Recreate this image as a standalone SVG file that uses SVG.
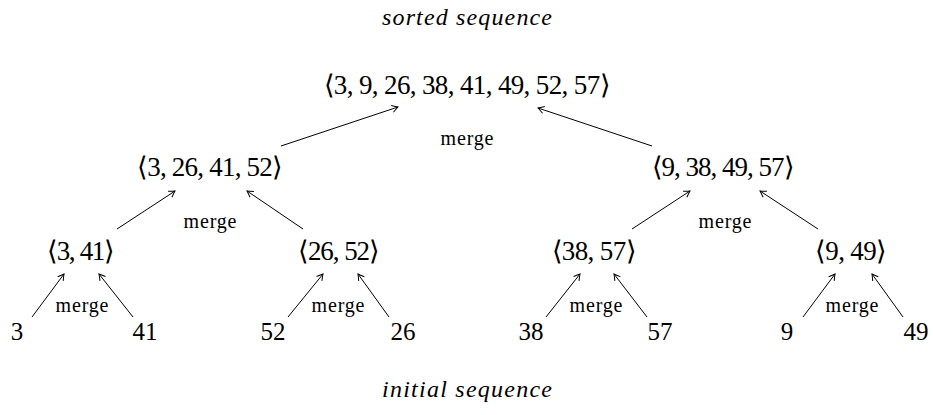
<svg xmlns="http://www.w3.org/2000/svg" width="933" height="415" viewBox="0 0 933 415">
<style>
text{fill:#000;text-anchor:middle;font-family:'Liberation Serif','Times New Roman',serif}
.cap{font-style:italic;font-size:24px}
.seq{font-size:27px}
.num{font-size:25px}
.mg{font-size:20px}
.e{stroke:#000;stroke-width:1;fill:none;marker-end:url(#ah)}
</style>
<defs>
<marker id="ah" viewBox="-8 -5 10 10" refX="0" refY="0" markerWidth="10" markerHeight="10" markerUnits="userSpaceOnUse" orient="auto">
<path d="M-6,-3.5 Q-2,-1 0,0 Q-2,1 -6,3.5" fill="none" stroke="#000" stroke-width="1"/>
</marker>
</defs>
<text class="cap" x="467" y="25" textLength="170">sorted sequence</text>
<text class="cap" x="467" y="397" textLength="170">initial sequence</text>
<g id="root"><text class="seq" x="467" y="94" textLength="287">⟨3, 9, 26, 38, 41, 49, 52, 57⟩</text></g>
<g id="l2a"><text class="seq" x="210" y="176" textLength="146">⟨3, 26, 41, 52⟩</text></g>
<g id="l2b"><text class="seq" x="723" y="176" textLength="143">⟨9, 38, 49, 57⟩</text></g>
<g id="l3a"><text class="seq" x="81" y="260" textLength="68">⟨3, 41⟩</text></g>
<g id="l3b"><text class="seq" x="339" y="260" textLength="82">⟨26, 52⟩</text></g>
<g id="l3c"><text class="seq" x="594" y="260" textLength="85">⟨38, 57⟩</text></g>
<g id="l3d"><text class="seq" x="851" y="260" textLength="72">⟨9, 49⟩</text></g>
<g id="n3"><text class="num" x="17" y="340">3</text></g>
<g id="n41"><text class="num" x="145" y="340">41</text></g>
<g id="n52"><text class="num" x="273" y="340">52</text></g>
<g id="n26"><text class="num" x="403" y="340">26</text></g>
<g id="n38"><text class="num" x="531" y="340">38</text></g>
<g id="n57"><text class="num" x="660" y="340">57</text></g>
<g id="n9"><text class="num" x="787" y="340">9</text></g>
<g id="n49"><text class="num" x="916" y="340">49</text></g>
<g id="connectors">
<line class="e" x1="32" y1="317" x2="64" y2="274"/>
<line class="e" x1="133" y1="317" x2="99" y2="274"/>
<line class="e" x1="288" y1="317" x2="323" y2="274"/>
<line class="e" x1="389" y1="317" x2="358" y2="274"/>
<line class="e" x1="546" y1="317" x2="580" y2="274"/>
<line class="e" x1="647" y1="317" x2="614" y2="274"/>
<line class="e" x1="803" y1="317" x2="835" y2="274"/>
<line class="e" x1="903" y1="317" x2="872" y2="274"/>
<line class="e" x1="117" y1="229" x2="175" y2="191"/>
<line class="e" x1="303" y1="229" x2="247" y2="191"/>
<line class="e" x1="632" y1="229" x2="690" y2="191"/>
<line class="e" x1="818" y1="229" x2="760" y2="191"/>
<line class="e" x1="281" y1="146" x2="398" y2="107"/>
<line class="e" x1="652" y1="146" x2="538" y2="108"/>
<text class="mg" x="467" y="145" textLength="53">merge</text>
<text class="mg" x="210" y="228" textLength="53">merge</text>
<text class="mg" x="725" y="228" textLength="53">merge</text>
<text class="mg" x="82" y="312" textLength="53">merge</text>
<text class="mg" x="338" y="312" textLength="53">merge</text>
<text class="mg" x="596" y="312" textLength="53">merge</text>
<text class="mg" x="852" y="312" textLength="53">merge</text>
</g>
</svg>
